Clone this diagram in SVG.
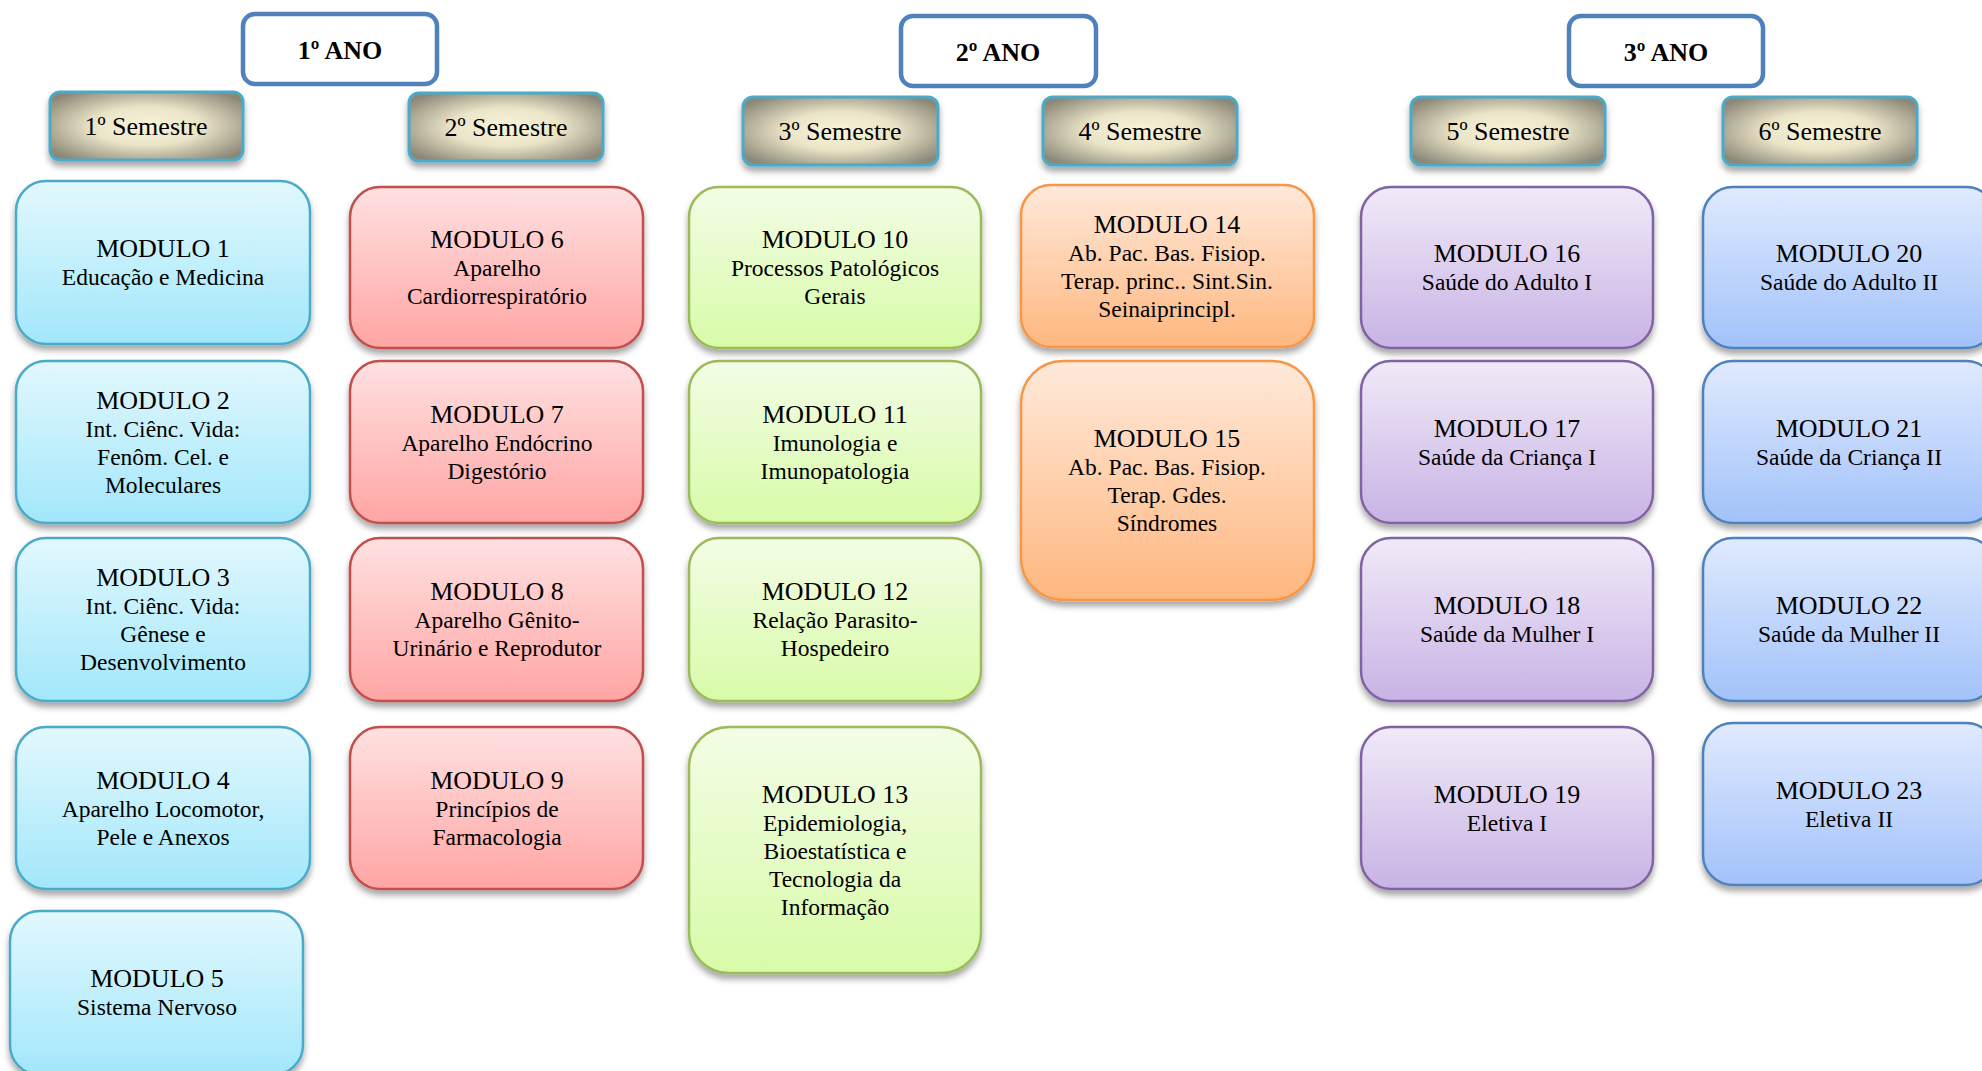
<svg xmlns="http://www.w3.org/2000/svg" width="1982" height="1071" viewBox="0 0 1982 1071">
<defs>
<linearGradient id="gBlue" x1="0" y1="0" x2="0" y2="1"><stop offset="0" stop-color="#e2f8fe"/><stop offset="1" stop-color="#a2e7fb"/></linearGradient>
<linearGradient id="gRed" x1="0" y1="0" x2="0" y2="1"><stop offset="0" stop-color="#ffe1e1"/><stop offset="1" stop-color="#ffa5a4"/></linearGradient>
<linearGradient id="gGreen" x1="0" y1="0" x2="0" y2="1"><stop offset="0" stop-color="#f3fde6"/><stop offset="1" stop-color="#d8fba8"/></linearGradient>
<linearGradient id="gOrange" x1="0" y1="0" x2="0" y2="1"><stop offset="0" stop-color="#ffe9da"/><stop offset="1" stop-color="#ffb77f"/></linearGradient>
<linearGradient id="gPurple" x1="0" y1="0" x2="0" y2="1"><stop offset="0" stop-color="#f0eaf8"/><stop offset="1" stop-color="#c8b3e5"/></linearGradient>
<linearGradient id="gBlue2" x1="0" y1="0" x2="0" y2="1"><stop offset="0" stop-color="#e0eafe"/><stop offset="1" stop-color="#a2c2fa"/></linearGradient>
<radialGradient id="gSem" cx="0.5" cy="0.5" r="0.62"><stop offset="0" stop-color="#f8f3da"/><stop offset="0.45" stop-color="#ebe5c8"/><stop offset="1" stop-color="#8c8878"/></radialGradient>
<filter id="sh" x="-10%" y="-10%" width="120%" height="130%"><feDropShadow dx="0" dy="5" stdDeviation="3" flood-color="#000" flood-opacity="0.35"/></filter>
</defs>
<style>
text{font-family:"Liberation Serif","Times New Roman",serif;fill:#000;text-anchor:middle}
.t{font-size:26px}
.s{font-size:23.5px}
.ano{font-size:26px;font-weight:bold}
.sem{font-size:26px}
.box{stroke-width:2.5;filter:url(#sh)}
.blue{fill:url(#gBlue);stroke:#4aaac9}
.red{fill:url(#gRed);stroke:#c0504d}
.green{fill:url(#gGreen);stroke:#9bbb59}
.orange{fill:url(#gOrange);stroke:#f79646}
.purple{fill:url(#gPurple);stroke:#8064a2}
.blue2{fill:url(#gBlue2);stroke:#4f81bd}
.anobox{fill:#fff;stroke:#4f81bd;stroke-width:4.5}
.sembox{fill:url(#gSem);stroke:#4aaac9;stroke-width:3;filter:url(#sh)}
</style>

<g id="ano1"><rect class="anobox" x="243" y="14" width="194" height="70" rx="12"/><text class="ano" x="340" y="59">1º ANO</text></g>
<g id="ano2"><rect class="anobox" x="901" y="16" width="195" height="70" rx="12"/><text class="ano" x="998" y="61">2º ANO</text></g>
<g id="ano3"><rect class="anobox" x="1569" y="16" width="194" height="70" rx="12"/><text class="ano" x="1666" y="61">3º ANO</text></g>

<g id="sem1"><rect class="sembox" x="50" y="92" width="193" height="68" rx="10"/><text class="sem" x="146" y="135">1º Semestre</text></g>
<g id="sem2"><rect class="sembox" x="409" y="93" width="194" height="68" rx="10"/><text class="sem" x="506" y="136">2º Semestre</text></g>
<g id="sem3"><rect class="sembox" x="743" y="97" width="195" height="68" rx="10"/><text class="sem" x="840" y="140">3º Semestre</text></g>
<g id="sem4"><rect class="sembox" x="1043" y="97" width="194" height="68" rx="10"/><text class="sem" x="1140" y="140">4º Semestre</text></g>
<g id="sem5"><rect class="sembox" x="1411" y="97" width="194" height="68" rx="10"/><text class="sem" x="1508" y="140">5º Semestre</text></g>
<g id="sem6"><rect class="sembox" x="1723" y="97" width="194" height="68" rx="10"/><text class="sem" x="1820" y="140">6º Semestre</text></g>

<g id="m1"><rect class="box blue" x="16" y="181" width="294" height="163" rx="30"/><text class="t" x="163" y="257">MODULO 1</text><text class="s" x="163" y="285">Educação e Medicina</text></g>
<g id="m2"><rect class="box blue" x="16" y="361" width="294" height="162" rx="30"/><text class="t" x="163" y="409">MODULO 2</text><text class="s" x="163" y="437">Int. Ciênc. Vida:</text><text class="s" x="163" y="465">Fenôm. Cel. e</text><text class="s" x="163" y="493">Moleculares</text></g>
<g id="m3"><rect class="box blue" x="16" y="538" width="294" height="163" rx="30"/><text class="t" x="163" y="586">MODULO 3</text><text class="s" x="163" y="614">Int. Ciênc. Vida:</text><text class="s" x="163" y="642">Gênese e</text><text class="s" x="163" y="670">Desenvolvimento</text></g>
<g id="m4"><rect class="box blue" x="16" y="727" width="294" height="162" rx="30"/><text class="t" x="163" y="789">MODULO 4</text><text class="s" x="163" y="817">Aparelho Locomotor,</text><text class="s" x="163" y="845">Pele e Anexos</text></g>
<g id="m5"><rect class="box blue" x="10" y="911" width="293" height="164" rx="30"/><text class="t" x="157" y="987">MODULO 5</text><text class="s" x="157" y="1015">Sistema Nervoso</text></g>

<g id="m6"><rect class="box red" x="350" y="187" width="293" height="161" rx="30"/><text class="t" x="497" y="248">MODULO 6</text><text class="s" x="497" y="276">Aparelho</text><text class="s" x="497" y="304">Cardiorrespiratório</text></g>
<g id="m7"><rect class="box red" x="350" y="361" width="293" height="162" rx="30"/><text class="t" x="497" y="423">MODULO 7</text><text class="s" x="497" y="451">Aparelho Endócrino</text><text class="s" x="497" y="479">Digestório</text></g>
<g id="m8"><rect class="box red" x="350" y="538" width="293" height="163" rx="30"/><text class="t" x="497" y="600">MODULO 8</text><text class="s" x="497" y="628">Aparelho Gênito-</text><text class="s" x="497" y="656">Urinário e Reprodutor</text></g>
<g id="m9"><rect class="box red" x="350" y="727" width="293" height="162" rx="30"/><text class="t" x="497" y="789">MODULO 9</text><text class="s" x="497" y="817">Princípios de</text><text class="s" x="497" y="845">Farmacologia</text></g>

<g id="m10"><rect class="box green" x="689" y="187" width="292" height="161" rx="30"/><text class="t" x="835" y="248">MODULO 10</text><text class="s" x="835" y="276">Processos Patológicos</text><text class="s" x="835" y="304">Gerais</text></g>
<g id="m11"><rect class="box green" x="689" y="361" width="292" height="162" rx="30"/><text class="t" x="835" y="423">MODULO 11</text><text class="s" x="835" y="451">Imunologia e</text><text class="s" x="835" y="479">Imunopatologia</text></g>
<g id="m12"><rect class="box green" x="689" y="538" width="292" height="163" rx="30"/><text class="t" x="835" y="600">MODULO 12</text><text class="s" x="835" y="628">Relação Parasito-</text><text class="s" x="835" y="656">Hospedeiro</text></g>
<g id="m13"><rect class="box green" x="689" y="727" width="292" height="246" rx="40"/><text class="t" x="835" y="803">MODULO 13</text><text class="s" x="835" y="831">Epidemiologia,</text><text class="s" x="835" y="859">Bioestatística e</text><text class="s" x="835" y="887">Tecnologia da</text><text class="s" x="835" y="915">Informação</text></g>

<g id="m14"><rect class="box orange" x="1021" y="185" width="293" height="162" rx="30"/><text class="t" x="1167" y="233">MODULO 14</text><text class="s" x="1167" y="261">Ab. Pac. Bas. Fisiop.</text><text class="s" x="1167" y="289">Terap. princ.. Sint.Sin.</text><text class="s" x="1167" y="317">Seinaiprincipl.</text></g>
<g id="m15"><rect class="box orange" x="1021" y="361" width="293" height="239" rx="42"/><text class="t" x="1167" y="447">MODULO 15</text><text class="s" x="1167" y="475">Ab. Pac. Bas. Fisiop.</text><text class="s" x="1167" y="503">Terap. Gdes.</text><text class="s" x="1167" y="531">Síndromes</text></g>

<g id="m16"><rect class="box purple" x="1361" y="187" width="292" height="161" rx="30"/><text class="t" x="1507" y="262">MODULO 16</text><text class="s" x="1507" y="290">Saúde do Adulto I</text></g>
<g id="m17"><rect class="box purple" x="1361" y="361" width="292" height="162" rx="30"/><text class="t" x="1507" y="437">MODULO 17</text><text class="s" x="1507" y="465">Saúde da Criança I</text></g>
<g id="m18"><rect class="box purple" x="1361" y="538" width="292" height="163" rx="30"/><text class="t" x="1507" y="614">MODULO 18</text><text class="s" x="1507" y="642">Saúde da Mulher I</text></g>
<g id="m19"><rect class="box purple" x="1361" y="727" width="292" height="162" rx="30"/><text class="t" x="1507" y="803">MODULO 19</text><text class="s" x="1507" y="831">Eletiva I</text></g>

<g id="m20"><rect class="box blue2" x="1703" y="187" width="293" height="161" rx="30"/><text class="t" x="1849" y="262">MODULO 20</text><text class="s" x="1849" y="290">Saúde do Adulto II</text></g>
<g id="m21"><rect class="box blue2" x="1703" y="361" width="293" height="162" rx="30"/><text class="t" x="1849" y="437">MODULO 21</text><text class="s" x="1849" y="465">Saúde da Criança II</text></g>
<g id="m22"><rect class="box blue2" x="1703" y="538" width="293" height="163" rx="30"/><text class="t" x="1849" y="614">MODULO 22</text><text class="s" x="1849" y="642">Saúde da Mulher II</text></g>
<g id="m23"><rect class="box blue2" x="1703" y="723" width="293" height="162" rx="30"/><text class="t" x="1849" y="799">MODULO 23</text><text class="s" x="1849" y="827">Eletiva II</text></g>

<g id="connectors"/>
</svg>
